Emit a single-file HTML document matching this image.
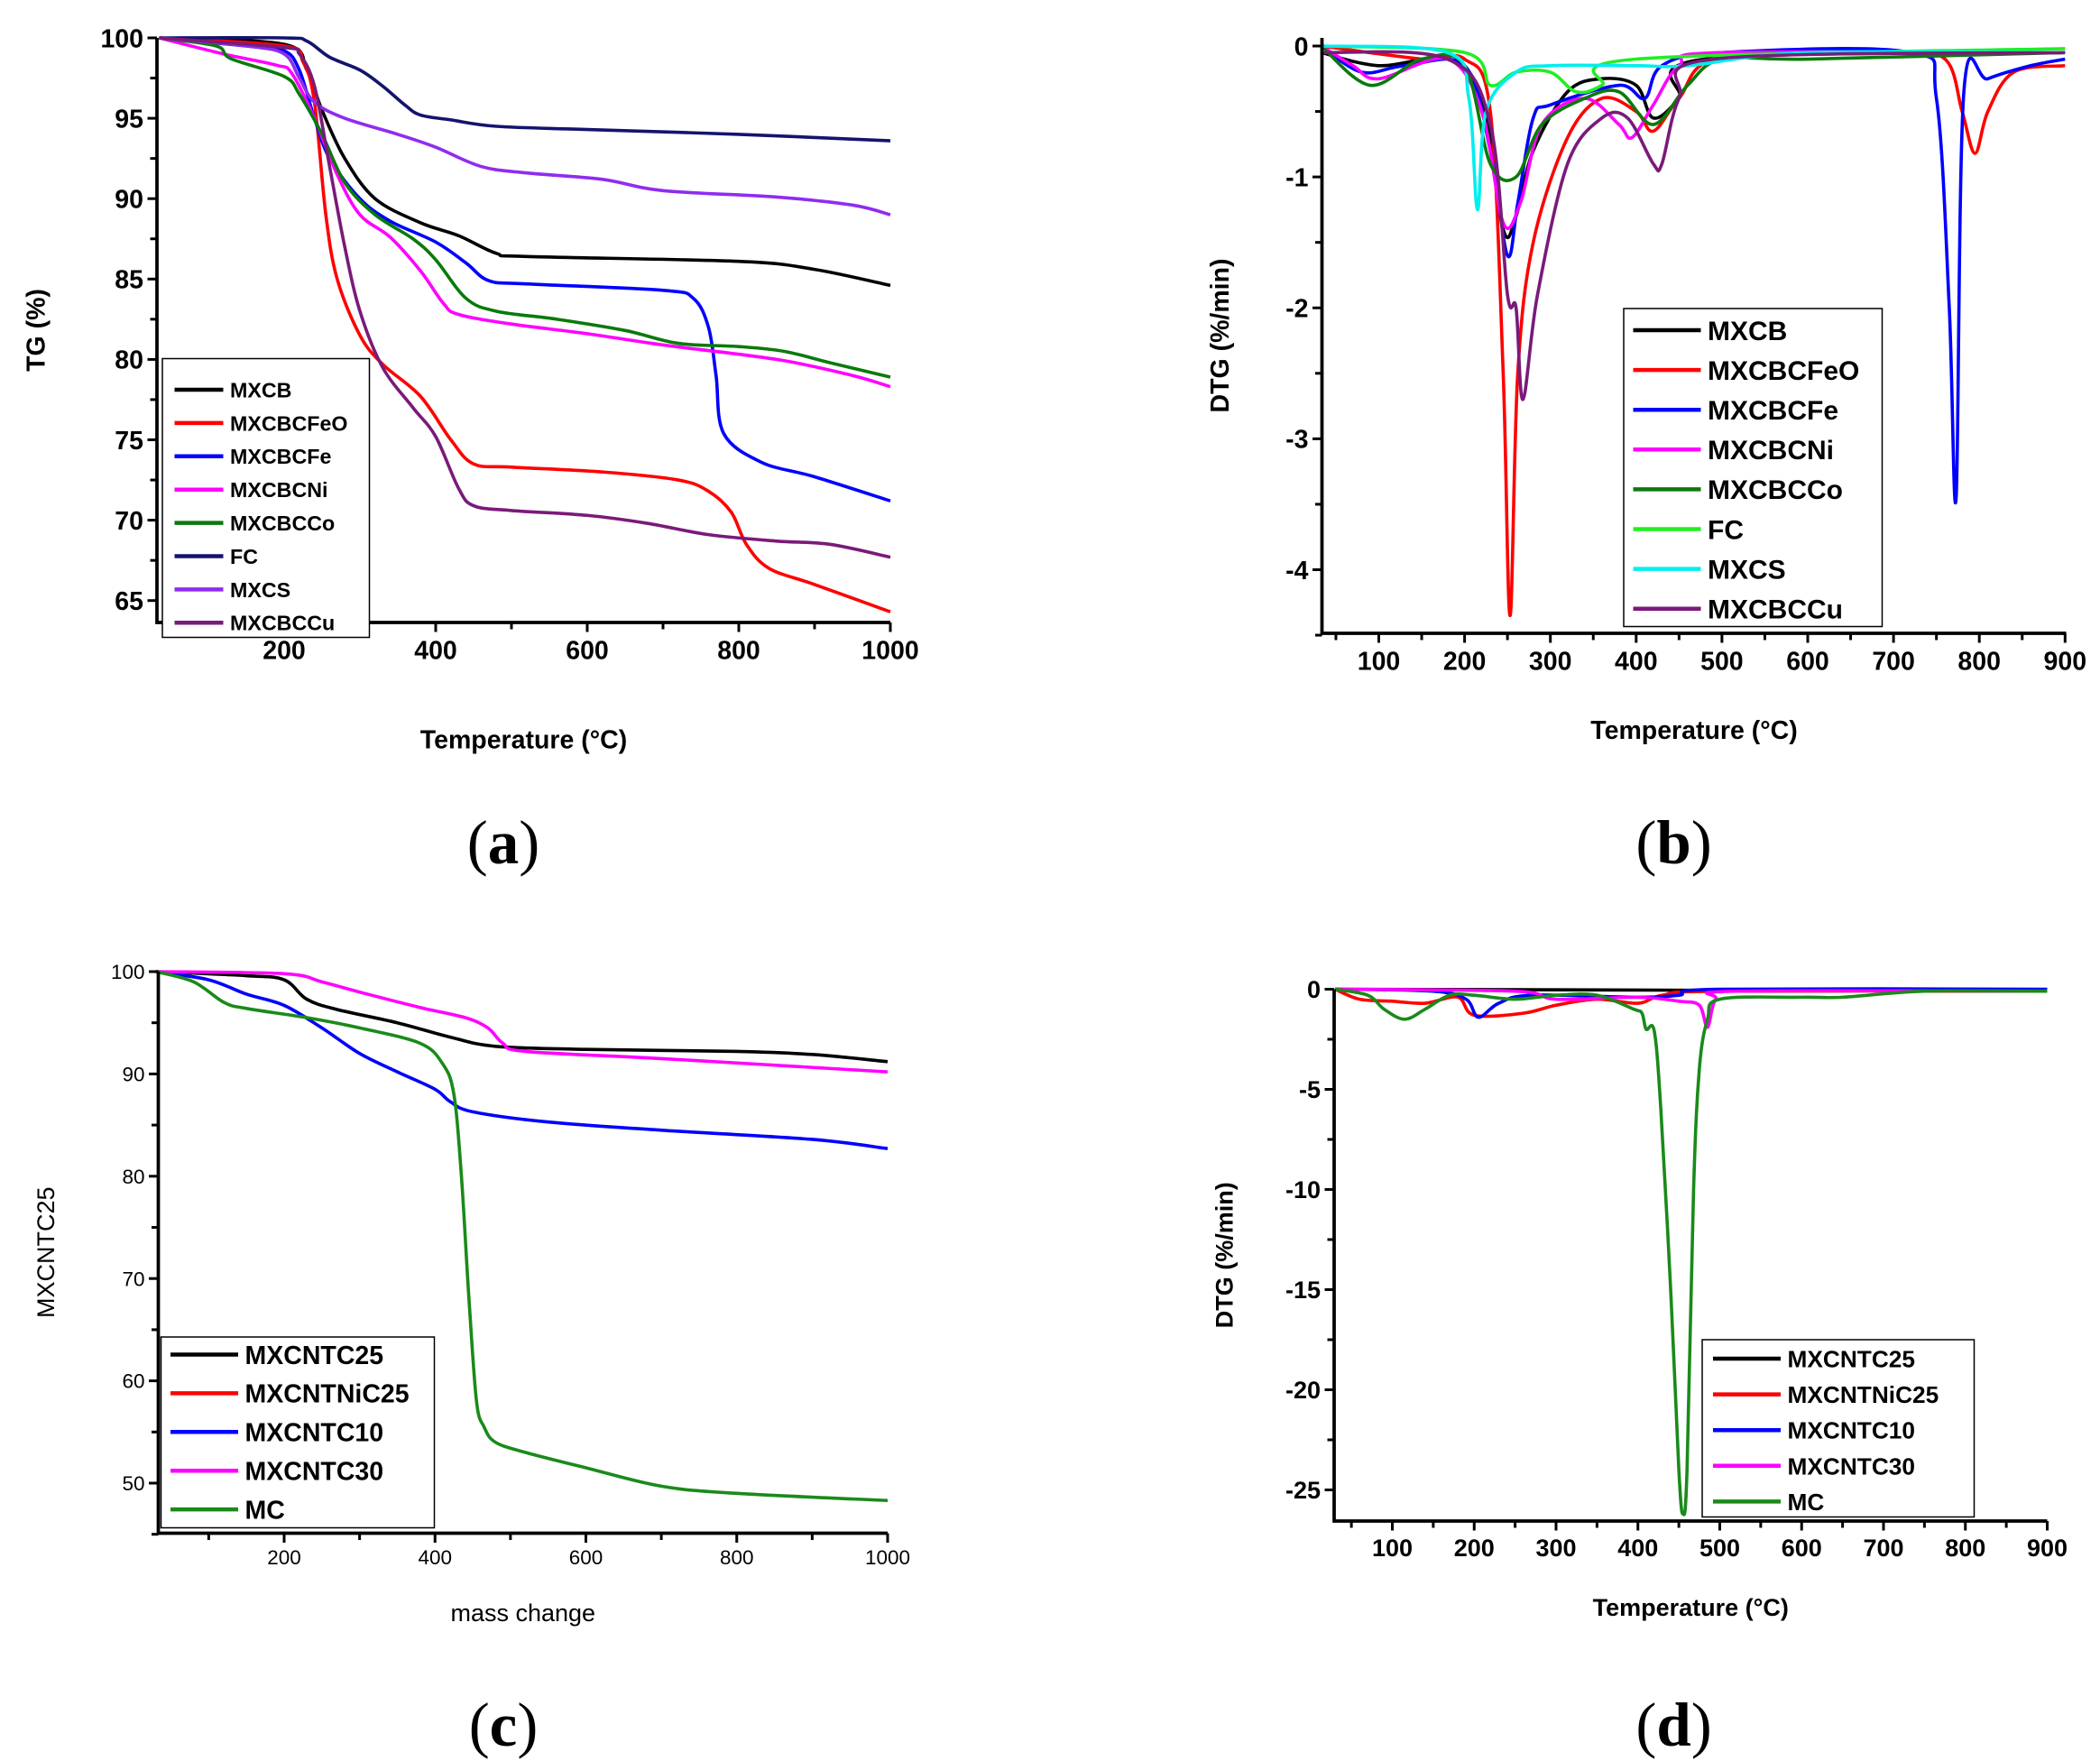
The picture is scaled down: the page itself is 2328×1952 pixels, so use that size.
<!DOCTYPE html>
<html><head><meta charset="utf-8"><style>
html,body{margin:0;padding:0;background:#fff;}
svg{display:block;}
text{font-family:"Liberation Sans",sans-serif;}
</style></head><body>
<svg id="s" xmlns="http://www.w3.org/2000/svg" width="2328" height="1952" viewBox="0 0 1552 1301.33">
<rect width="1552" height="1302" fill="#fff"/>
<g id="g"></g>
</svg>
<script>
var g=document.getElementById('g'),NS='http://www.w3.org/2000/svg';
function el(t,a,txt){var e=document.createElementNS(NS,t);for(var k in a)e.setAttribute(k,a[k]);if(txt!==undefined)e.textContent=txt;g.appendChild(e);return e;}
function panel(P){
 var X=function(v){return P.x0px+(v-P.x0)*P.xs;},Y=function(v){return P.y0px+(v-P.y0)*P.ys;};
 P.curves.forEach(function(c){
  var p=c.d.map(function(q){return [X(q[0]),Y(q[1])];});
  var d='M'+p[0][0]+','+p[0][1];
  for(var i=0;i<p.length-1;i++){var a=p[i-1]||p[i],b=p[i],c2=p[i+1],e=p[i+2]||c2;
   d+=' C'+(b[0]+(c2[0]-a[0])/6)+','+(b[1]+(c2[1]-a[1])/6)+' '+(c2[0]-(e[0]-b[0])/6)+','+(c2[1]-(e[1]-b[1])/6)+' '+c2[0]+','+c2[1];}
  el('path',{d:d,fill:'none',stroke:c.c,'stroke-width':2.4,'stroke-linejoin':'round'});
 });
 el('path',{d:'M'+P.L+','+P.T+' V'+P.B+' H'+P.R,fill:'none',stroke:'#000','stroke-width':2.5});
 P.xt.forEach(function(v){var x=X(v);var maj=P.xl.indexOf(v)>=0;
  el('line',{x1:x,x2:x,y1:P.B,y2:P.B+(maj?7:5),stroke:'#000','stroke-width':2});
  if(maj)el('text',{x:x,y:P.B+P.fs+8,'text-anchor':'middle','font-size':P.fs,'font-weight':P.fw},v);});
 P.yt.forEach(function(v){var y=Y(v);var maj=P.yl.indexOf(v)>=0;
  el('line',{x1:P.L,x2:P.L-(maj?7:5),y1:y,y2:y,stroke:'#000','stroke-width':2});
  if(maj)el('text',{x:P.L-10,y:y+P.fs*0.36,'text-anchor':'end','font-size':P.fs,'font-weight':P.fw},v);});
 el('text',{x:(P.L+P.R)/2,y:P.xly,'text-anchor':'middle','font-size':P.tfs,'font-weight':P.fw},P.xlab);
 el('text',{x:0,y:0,transform:'translate('+P.ylx+','+(P.T+P.B)/2+') rotate(-90)','text-anchor':'middle','font-size':P.tfs,'font-weight':P.fw},P.ylab);
 var Lg=P.lg;el('rect',{x:Lg.x,y:Lg.y,width:Lg.w,height:Lg.h,fill:'#fff',stroke:'#000','stroke-width':1});
 P.curves.filter(function(c){return c.n}).forEach(function(c,i){var y=Lg.y0+i*Lg.dy;
  el('line',{x1:Lg.lx,x2:Lg.lx+Lg.ll,y1:y,y2:y,stroke:c.c,'stroke-width':3});
  el('text',{x:Lg.lx+Lg.ll+5,y:y+Lg.fs*0.36,'font-size':Lg.fs,'font-weight':'bold'},c.n);});
 var t=el('text',{x:P.lbx,y:P.lby,'text-anchor':'middle','font-size':46,style:'font-family:"Liberation Serif",serif'});
 t.appendChild(document.createTextNode('('));
 var ts=document.createElementNS(NS,'tspan');ts.setAttribute('font-weight','bold');ts.textContent=P.lb;t.appendChild(ts);
 t.appendChild(document.createTextNode(')'));
}
function rng(a,b,s){var r=[];for(var v=a;v<=b+1e-9;v+=s)r.push(Math.round(v*100)/100);return r;}
var A={x0:200,x0px:210,xs:0.56,y0:100,y0px:28,ys:-11.88,L:116,R:658,T:28,B:460,
 xt:rng(100,1000,100),xl:[200,400,600,800,1000],yt:rng(65,100,2.5),yl:[65,70,75,80,85,90,95,100],fs:19,fw:'bold',tfs:19,
 xlab:'Temperature (°C)',xly:553,ylab:'TG (%)',ylx:33,lb:'a',lbx:372,lby:638,
 lg:{x:120,y:265,w:153,h:206,y0:288,dy:24.6,lx:129,ll:36,fs:15.5},
 curves:[
 {n:'MXCB',c:'#000',d:[[35,100],[200,99.6],[230,98],[250,95.5],[280,92.5],[320,90],[380,88.5],[430,87.7],[480,86.6],[520,86.4],[800,86.1],[900,85.6],[1000,84.6]]},
 {n:'MXCBCFeO',c:'#ff0000',d:[[35,100],[200,99.5],[225,98.5],[240,96],[255,89],[270,85],[300,81.5],[330,79.7],[380,77.7],[420,75],[450,73.5],[500,73.3],[620,73],[720,72.5],[760,71.8],[790,70.5],[810,68.5],[840,67],[900,66],[1000,64.3]]},
 {n:'MXCBCFe',c:'#0000ff',d:[[35,100],[150,99.5],[200,99.2],[220,98],[240,95],[260,92.5],[300,90],[340,88.6],[400,87.3],[440,86],[470,84.9],[520,84.7],[700,84.3],[740,83.8],[760,82],[770,79],[780,75.4],[830,73.6],[900,72.7],[1000,71.2]]},
 {n:'MXCBCNi',c:'#ff00ff',d:[[35,100],[120,99],[190,98.3],[210,97.8],[240,95],[270,91.5],[300,89],[340,87.6],[380,85.5],[410,83.5],[430,82.8],[500,82.2],[600,81.6],[700,80.9],[850,80],[950,79],[1000,78.3]]},
 {n:'MXCBCCo',c:'#0a7a0a',d:[[35,100],[110,99.5],[130,98.7],[200,97.6],[220,96.5],[250,94],[280,91],[320,89],[370,87.5],[400,86.2],[440,83.8],[480,83],[560,82.5],[650,81.8],[720,81],[800,80.8],[860,80.5],[920,79.8],[1000,78.9]]},
 {n:'FC',c:'#14146e',d:[[35,100],[200,100],[230,99.8],[260,98.8],[300,98],[330,97],[360,95.8],[380,95.2],[420,94.9],[480,94.5],[600,94.3],[800,94],[1000,93.6]]},
 {n:'MXCS',c:'#8f2cf0',d:[[35,100],[150,99.5],[200,99],[220,97.5],[240,96],[280,95],[350,94],[400,93.2],[460,92],[520,91.6],[620,91.2],[700,90.5],[850,90.1],[950,89.6],[1000,89]]},
 {n:'MXCBCCu',c:'#7a1a7a',d:[[35,100],[200,99.4],[220,99],[240,97],[260,92],[280,87],[300,83],[330,79.5],[370,77],[400,75.2],[430,72],[450,70.9],[500,70.6],[600,70.3],[680,69.8],[760,69.1],[850,68.7],[920,68.5],[1000,67.7]]}
 ]};
panel(A);
var B={x0:100,x0px:1019,xs:0.634,y0:0,y0px:34,ys:-96.75,L:977,R:1527,T:28,B:468,
 xt:rng(50,900,50),xl:[100,200,300,400,500,600,700,800,900],yt:rng(-4.5,0,0.5),yl:[-4,-3,-2,-1,0],fs:19,fw:'bold',tfs:19,
 xlab:'Temperature (°C)',xly:546,ylab:'DTG (%/min)',ylx:908,lb:'b',lbx:1237,lby:638,
 lg:{x:1200,y:228,w:191,h:235,y0:244,dy:29.4,lx:1207,ll:50,fs:20},
 curves:[
 {n:'MXCB',c:'#000',d:[[33,-0.05],[100,-0.15],[180,-0.1],[220,-0.4],[245,-1.4],[260,-1.3],[280,-0.8],[320,-0.35],[360,-0.25],[400,-0.3],[420,-0.55],[450,-0.4],[480,-0.1],[900,-0.05]]},
 {n:'MXCBCFeO',c:'#ff0000',d:[[33,0],[150,-0.1],[200,-0.1],[230,-0.5],[245,-2.5],[253,-4.35],[262,-2.5],[280,-1.5],[320,-0.7],[360,-0.4],[400,-0.5],[420,-0.65],[450,-0.4],[500,-0.08],[700,-0.05],[760,-0.1],[780,-0.5],[795,-0.82],[810,-0.5],[840,-0.2],[900,-0.15]]},
 {n:'MXCBCFe',c:'#0000ff',d:[[33,0],[80,-0.2],[130,-0.15],[200,-0.15],[230,-0.8],[250,-1.6],[262,-1.2],[280,-0.55],[300,-0.45],[380,-0.3],[410,-0.4],[430,-0.15],[500,-0.05],[720,-0.05],[750,-0.4],[765,-2],[773,-3.45],[782,-0.35],[810,-0.25],[860,-0.15],[900,-0.1]]},
 {n:'MXCBCNi',c:'#ff00ff',d:[[33,0],[70,-0.15],[100,-0.25],[180,-0.1],[220,-0.5],[245,-1.35],[265,-1.2],[290,-0.6],[340,-0.4],[380,-0.6],[395,-0.7],[420,-0.45],[450,-0.15],[500,-0.05],[900,-0.05]]},
 {n:'MXCBCCo',c:'#0a7a0a',d:[[33,0],[90,-0.3],[150,-0.1],[200,-0.15],[230,-0.9],[260,-1.0],[290,-0.6],[340,-0.4],[380,-0.35],[420,-0.6],[460,-0.3],[500,-0.1],[600,-0.1],[900,-0.05]]},
 {n:'FC',c:'#22ee22',d:[[33,0],[200,-0.05],[230,-0.3],[260,-0.2],[300,-0.2],[330,-0.35],[360,-0.3],[400,-0.1],[900,-0.02]]},
 {n:'MXCS',c:'#00eeee',d:[[33,0],[180,-0.05],[205,-0.4],[215,-1.25],[225,-0.5],[260,-0.2],[300,-0.15],[400,-0.15],[460,-0.15],[600,-0.05],[900,-0.05]]},
 {n:'MXCBCCu',c:'#7a1a7a',d:[[33,-0.05],[180,-0.1],[230,-0.6],[250,-1.9],[260,-2.0],[268,-2.7],[285,-1.9],[320,-0.9],[360,-0.55],[390,-0.55],[420,-0.9],[430,-0.9],[450,-0.4],[490,-0.1],[900,-0.05]]}
 ]};
panel(B);
var C={x0:200,x0px:210,xs:0.5575,y0:100,y0px:718,ys:-7.56,L:117,R:656,T:718,B:1133,
 xt:rng(100,1000,100),xl:[200,400,600,800,1000],yt:rng(45,100,5),yl:[50,60,70,80,90,100],fs:15,fw:'normal',tfs:18,
 xlab:'mass change',xly:1198,ylab:'MXCNTC25',ylx:40,lb:'c',lbx:372,lby:1290,
 lg:{x:119,y:988,w:202,h:141,y0:1001,dy:28.6,lx:126,ll:50,fs:19},
 curves:[
 {n:'MXCNTC25',c:'#000',d:[[30,100],[150,99.6],[200,99.2],[230,97.3],[270,96.3],[350,95],[420,93.6],[480,92.7],[600,92.4],[800,92.2],[900,91.9],[1000,91.2]]},
 {n:'MXCNTNiC25',c:'#ff0000',d:[[30,100],[30.1,100]]},
 {n:'MXCNTC10',c:'#0000ff',d:[[30,100],[100,99.2],[150,97.8],[200,96.7],[250,94.5],[300,92],[350,90.2],[400,88.5],[420,87.3],[450,86.3],[550,85.3],[700,84.5],[900,83.6],[1000,82.7]]},
 {n:'MXCNTC30',c:'#ff00ff',d:[[30,100],[200,99.8],[250,99],[300,98],[380,96.5],[440,95.5],[470,94.5],[490,93],[520,92.2],[700,91.5],[1000,90.2]]},
 {n:'MC',c:'#1a8a1a',d:[[30,100],[80,99],[120,97],[150,96.4],[230,95.5],[300,94.5],[380,93],[410,91],[425,88],[435,80],[445,68],[455,58],[465,55.5],[480,54],[520,53],[600,51.5],[700,49.7],[800,49],[1000,48.3]]}
 ]};
panel(C);
var D={x0:100,x0px:1029,xs:0.605,y0:0,y0px:731,ys:-14.8,L:986,R:1513,T:731,B:1124,
 xt:rng(50,900,50),xl:[100,200,300,400,500,600,700,800,900],yt:rng(-25,0,2.5),yl:[-25,-20,-15,-10,-5,0],fs:18,fw:'bold',tfs:18,
 xlab:'Temperature (°C)',xly:1194,ylab:'DTG (%/min)',ylx:911,lb:'d',lbx:1237,lby:1290,
 lg:{x:1258,y:990,w:201,h:131,y0:1004,dy:26.4,lx:1266,ll:50,fs:17.5},
 curves:[
 {n:'MXCNTC25',c:'#000',d:[[30,0],[900,-0.1]]},
 {n:'MXCNTNiC25',c:'#ff0000',d:[[30,0],[60,-0.5],[100,-0.6],[140,-0.7],[180,-0.4],[200,-1.3],[260,-1.2],[300,-0.8],[350,-0.5],[400,-0.7],[430,-0.3],[500,-0.1],[900,-0.1]]},
 {n:'MXCNTC10',c:'#0000ff',d:[[30,0],[150,-0.1],[190,-0.5],[205,-1.4],[230,-0.7],[270,-0.3],[400,-0.4],[450,-0.3],[500,0],[900,0]]},
 {n:'MXCNTC30',c:'#ff00ff',d:[[30,0],[250,-0.1],[300,-0.5],[400,-0.4],[450,-0.6],[475,-0.8],[485,-1.9],[495,-0.5],[520,-0.1],[900,-0.1]]},
 {n:'MC',c:'#1a8a1a',d:[[30,0],[70,-0.3],[90,-1],[115,-1.5],[140,-1],[170,-0.3],[200,-0.3],[250,-0.5],[300,-0.3],[350,-0.3],[395,-1],[405,-1.2],[410,-2],[420,-2.1],[428,-6],[440,-15],[450,-24],[455,-26.2],[460,-24],[468,-10],[475,-4],[485,-1.5],[500,-0.5],[600,-0.4],[650,-0.4],[750,-0.1],[900,-0.1]]}
 ]};
panel(D);
</script>
</body></html>
